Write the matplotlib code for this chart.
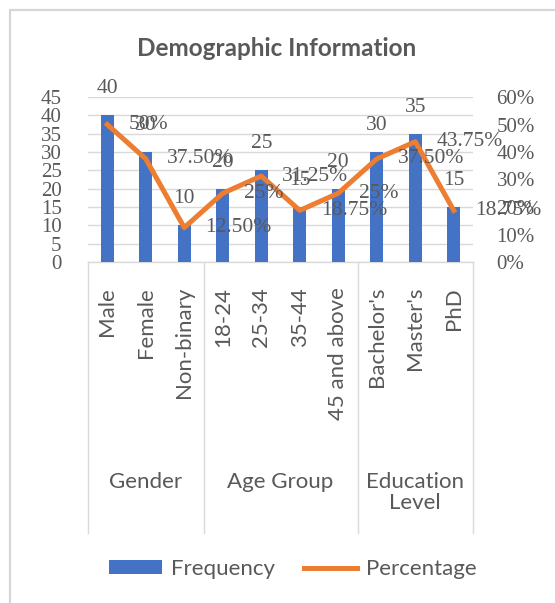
import matplotlib
matplotlib.use("Agg")
import matplotlib.pyplot as plt
from matplotlib.transforms import blended_transform_factory
from matplotlib.patches import Rectangle

categories = ["Male", "Female", "Non-binary", "18-24", "25-34", "35-44",
              "45 and above", "Bachelor's", "Master's", "PhD"]
groups = ["Gender", "Age Group", "Education\nLevel"]
group_sizes = [3, 4, 3]
frequency = [40, 30, 10, 20, 25, 15, 20, 30, 35, 15]
percentage = [50, 37.5, 12.5, 25, 31.25, 18.75, 25, 37.5, 43.75, 18.75]
pct_labels = ["50%", "37.50%", "12.50%", "25%", "31.25%", "18.75%",
              "25%", "37.50%", "43.75%", "18.75%"]
left_ticks = list(range(0, 50, 5))
right_ticks = list(range(0, 70, 10))

W, H = 555, 603
BLUE = "#4472C4"
ORANGE = "#ED7D31"
GRID = "#D9D9D9"
TXT = "#595959"
SANS = "Lato"
SERIF = "Liberation Serif"

fig = plt.figure(figsize=(W / 100, H / 100), dpi=100)
fig.patch.set_facecolor("white")

# outer chart border (top and left visible)
fig.add_artist(Rectangle((10 / W, -0.05), 1.0, (H - 10) / H + 0.05,
                         transform=fig.transFigure, fill=False,
                         edgecolor="#D6D6D6", lw=1.6))

px0, px1 = 88, 473
py0, py1 = 262, 97
ax = fig.add_axes([px0 / W, 1 - py0 / H, (px1 - px0) / W, (py0 - py1) / H])
ax2 = ax.twinx()

x = list(range(len(categories)))
bars = ax.bar(x, frequency, width=0.33, color=BLUE, zorder=3, label="Frequency")
ax.set_xlim(-0.5, len(categories) - 0.5)
ax.set_ylim(0, 45)
ax.set_yticks(left_ticks)
ax.set_yticklabels([str(t) for t in left_ticks], fontfamily=SERIF,
                   fontsize=15, color=TXT)
ax.yaxis.grid(True, color=GRID, lw=1.0, zorder=0)
ax.set_axisbelow(True)
ax.set_xticks([])
ax.tick_params(axis="y", length=0, pad=19)
for s in ["top", "left", "right"]:
    ax.spines[s].set_visible(False)
ax.spines["bottom"].set_color(GRID)
ax.spines["bottom"].set_linewidth(1.0)

line, = ax2.plot(x, percentage, color=ORANGE, lw=3.6, zorder=4,
                 solid_joinstyle="round", label="Percentage")
ax2.set_ylim(0, 60)
ax2.set_yticks(right_ticks)
ax2.set_yticklabels([f"{t}%" for t in right_ticks], fontfamily=SERIF,
                    fontsize=15, color=TXT)
ax2.tick_params(axis="y", length=0, pad=17)
for s in ["top", "left", "right", "bottom"]:
    ax2.spines[s].set_visible(False)

# bar data labels
for xi, v in zip(x, frequency):
    ax.annotate(str(v), (xi, v), xytext=(0, 17), textcoords="offset pixels",
                ha="center", va="bottom", fontfamily=SERIF, fontsize=15.5,
                color=TXT, zorder=6, annotation_clip=False)

# percentage data labels (right of point)
for xi, v, lab in zip(x, percentage, pct_labels):
    ax2.annotate(lab, (xi, v), xytext=(21, 0), textcoords="offset pixels",
                 ha="left", va="center", fontfamily=SERIF, fontsize=15.5,
                 color=TXT, zorder=6, annotation_clip=False)

# multi-level category axis
bt = blended_transform_factory(ax.transData, fig.transFigure)
for xi, c in zip(x, categories):
    fig.text(xi, 1 - 287 / H, c, transform=bt, rotation=90, ha="center",
             va="top", fontfamily=SANS, fontsize=16, color=TXT)

bounds = [-0.5]
for g in group_sizes:
    bounds.append(bounds[-1] + g)
for b in bounds:
    fig.add_artist(plt.Line2D([b, b], [1 - py0 / H, 1 - 533 / H], transform=bt,
                              color=GRID, lw=1.0))
for i, g in enumerate(groups):
    cx = (bounds[i] + bounds[i + 1]) / 2
    fig.text(cx, 1 - 472 / H, g, transform=bt, ha="center", va="top",
             fontfamily=SANS, fontsize=16, color=TXT, linespacing=1.05,
             multialignment="center")

# title
fig.text(277 / W, 1 - 49 / H, "Demographic Information", ha="center",
         va="center", fontfamily=SANS, fontsize=17.5, fontweight="bold",
         color=TXT)

# legend
leg = fig.legend(handles=[bars, line], labels=["Frequency", "Percentage"],
                 loc="center", bbox_to_anchor=(293 / W, 1 - 569 / H), ncol=2,
                 frameon=False, prop={"family": SANS, "size": 16},
                 handlelength=2.4, handleheight=0.58, handletextpad=0.4,
                 columnspacing=1.3, borderpad=0)
for t in leg.get_texts():
    t.set_color(TXT)

fig.savefig("out.png", dpi=100)
